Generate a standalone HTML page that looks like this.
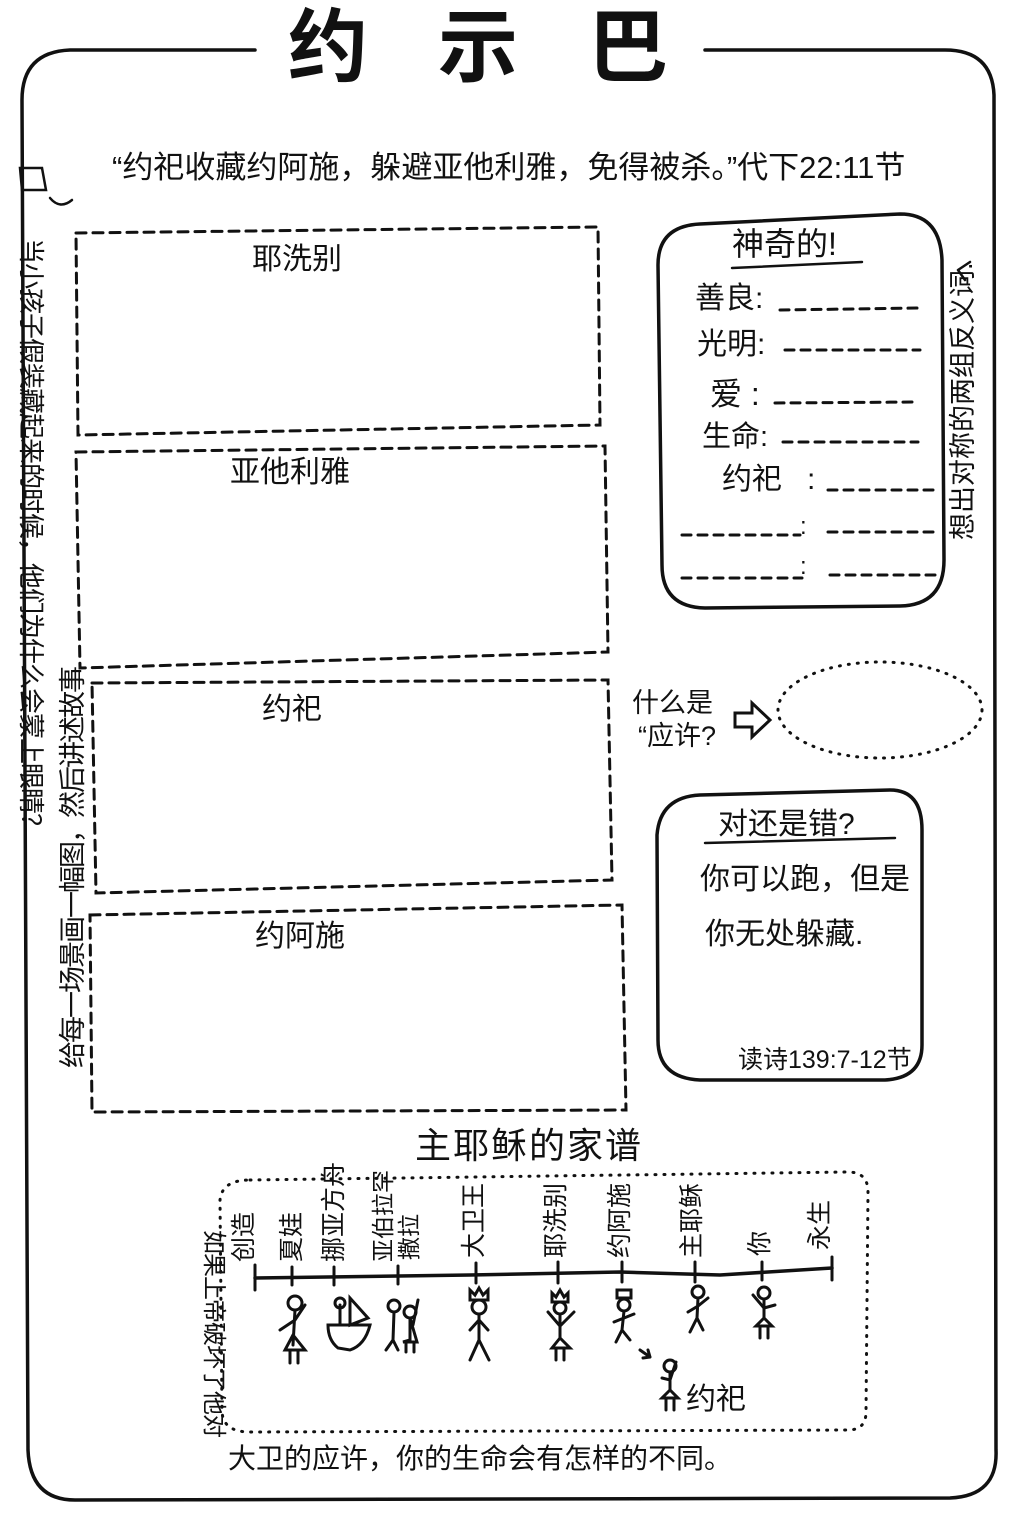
<!DOCTYPE html>
<html><head><meta charset="utf-8">
<style>
body{margin:0;width:1034px;height:1517px;background:#fff;position:relative;overflow:hidden;font-family:"Liberation Sans","Noto Sans CJK SC","WenQuanYi Zen Hei",sans-serif;color:#111}
.t{position:absolute;white-space:nowrap;line-height:1}
.r90{transform-origin:0 0;transform:rotate(90deg)}
.rm90{transform-origin:0 0;transform:rotate(-90deg)}
</style></head><body>
<svg width="1034" height="1517" style="position:absolute;left:0;top:0" fill="none" stroke="#111" stroke-linecap="round">
<path d="M255 50 L70 50 Q22 52 22 100 L28 1450 Q30 1500 75 1500 L950 1498 Q998 1496 996 1450 L994 95 Q992 50 945 50 L705 50" stroke-width="3.5"/>
<g stroke-width="3" stroke-dasharray="10 7">
<path d="M76 233 L598 227 L600 425 L78 435 Z"/>
<path d="M76 452 L605 446 L608 652 L80 668 Z"/>
<path d="M92 683 L608 680 L612 880 L96 893 Z"/>
<path d="M90 915 L622 905 L626 1110 L92 1112 Z"/>
</g>
<path d="M700 224 L900 214 Q940 214 942 260 L944 560 Q944 605 900 606 L705 608 Q662 607 662 565 L658 265 Q658 226 700 224 Z" stroke-width="3.5"/>
<path d="M732 268 L862 262" stroke-width="2.5"/>
<g stroke-width="3" stroke-dasharray="9 7">
<path d="M780 310 L920 308"/><path d="M785 350 L920 350"/><path d="M775 403 L915 402"/><path d="M783 442 L918 442"/><path d="M828 490 L935 490"/><path d="M682 535 L800 535"/><path d="M828 532 L935 532"/><path d="M682 578 L802 578"/><path d="M830 575 L938 575"/>
</g>
<path d="M958 270 L970 262 M958 270 L965 280" stroke-width="2.5"/>
<ellipse cx="880" cy="710" rx="102" ry="48" stroke-width="3" stroke-dasharray="1 8"/>
<path d="M735 713 L752 713 L752 703 L770 720 L752 737 L752 727 L735 727 Z" stroke-width="3"/>
<path d="M700 795 L890 790 Q922 790 922 830 L922 1045 Q922 1078 885 1080 L700 1080 Q658 1078 658 1040 L657 835 Q660 797 700 795 Z" stroke-width="3.5"/>
<path d="M705 843 L895 838" stroke-width="2.5"/>
<path d="M250 1180 L848 1172 Q868 1172 868 1192 L866 1412 Q866 1430 848 1430 L250 1432 Q222 1432 222 1410 L220 1200 Q222 1180 250 1180 Z" stroke-width="3" stroke-dasharray="1 8"/>
<path d="M255 1278 L470 1275 L620 1272 L720 1275 L832 1268" stroke-width="3.5"/>
<g stroke-width="3">
<path d="M255 1265 L255 1290"/><path d="M832 1257 L832 1280"/>
<path d="M292 1267 L292 1285"/><path d="M334 1267 L334 1285"/><path d="M398 1266 L398 1284"/><path d="M476 1263 L476 1283"/><path d="M558 1262 L558 1283"/><path d="M622 1262 L622 1282"/><path d="M695 1262 L695 1282"/><path d="M762 1262 L762 1280"/>
</g>
<g stroke-width="3">
<circle cx="295" cy="1303" r="7"/><path d="M295 1310 L293 1345 M280 1330 L295 1320 L305 1305 M293 1335 L285 1350 L305 1350 Z M290 1350 L290 1363 M298 1350 L298 1363"/>
<path d="M328 1325 L370 1325 Q365 1345 350 1350 L338 1348 Q328 1340 328 1325 Z M350 1298 L350 1325 L368 1318 Z M340 1305 L340 1325"/><circle cx="340" cy="1303" r="5"/>
<circle cx="394" cy="1306" r="6"/><circle cx="410" cy="1312" r="6"/><path d="M394 1312 L393 1340 L386 1350 M393 1340 L398 1350 M410 1318 L410 1340 L403 1342 L417 1342 Z M406 1342 L406 1352 M414 1342 L414 1352 M418 1300 L413 1325"/>
<path d="M470 1290 L470 1300 L488 1300 L488 1290 L483 1295 L479 1288 L475 1295 Z"/><circle cx="479" cy="1307" r="7"/><path d="M479 1314 L479 1340 L470 1360 M479 1340 L489 1360 M470 1330 L479 1320 L488 1330"/>
<path d="M552 1293 L552 1302 L568 1302 L568 1293 L564 1297 L560 1290 L556 1297 Z"/><circle cx="560" cy="1308" r="6"/><path d="M560 1314 L560 1338 M548 1312 L560 1326 L574 1312 M560 1338 L552 1348 L570 1348 Z M556 1348 L556 1360 M564 1348 L564 1360"/>
<path d="M617 1290 L617 1298 L631 1298 L631 1290 Z"/><circle cx="624" cy="1305" r="6"/><path d="M624 1311 L622 1330 L616 1342 M622 1330 L630 1340 M614 1322 L624 1318 L634 1314"/>
<circle cx="698" cy="1292" r="6"/><path d="M698 1298 L697 1318 L690 1332 M697 1318 L703 1330 M688 1312 L698 1306 L708 1298"/>
<circle cx="764" cy="1293" r="6"/><path d="M764 1299 L764 1318 M753 1295 L764 1308 L775 1305 M764 1318 L756 1326 L772 1326 Z M760 1326 L760 1338 M768 1326 L768 1338"/>
<path d="M640 1350 L650 1357 M650 1357 L648 1350 M650 1357 L643 1358"/>
<circle cx="670" cy="1366" r="6"/><path d="M670 1372 L670 1390 M662 1378 L670 1380 L676 1362 M670 1390 L662 1398 L678 1398 Z M666 1398 L666 1410 M674 1398 L674 1410"/>
</g>
<path d="M20 168 L42 168 L46 190 L22 190 Z M50 198 Q60 210 72 200" stroke-width="2.5"/>
</svg>

<div class="t" style="left:288px;top:8px;font-size:80px;font-weight:bold;letter-spacing:70px">约示巴</div>
<div class="t" style="left:112px;top:152px;font-size:31px">“约祀收藏约阿施，躲避亚他利雅，免得被杀。”代下22:11节</div>

<div class="t" style="left:252px;top:245px;font-size:30px">耶洗别</div>
<div class="t" style="left:230px;top:458px;font-size:30px">亚他利雅</div>
<div class="t" style="left:262px;top:695px;font-size:30px">约祀</div>
<div class="t" style="left:255px;top:922px;font-size:30px">约阿施</div>

<div class="t r90" style="left:44px;top:238px;font-size:26px;letter-spacing:-1px">当小孩子假装藏起来的时候，他们为什么会蒙上眼睛？</div>
<div class="t rm90" style="left:60px;top:1068px;font-size:27px;letter-spacing:-2px">给每一场景画一幅图，然后讲述故事</div>

<div class="t" style="left:732px;top:228px;font-size:32px">神奇的!</div>
<div class="t" style="left:695px;top:284px;font-size:30px">善良:</div>
<div class="t" style="left:697px;top:330px;font-size:30px">光明:</div>
<div class="t" style="left:710px;top:378px;font-size:32px">爱 :</div>
<div class="t" style="left:702px;top:423px;font-size:29px">生命:</div>
<div class="t" style="left:722px;top:465px;font-size:30px">约祀 &nbsp;&nbsp;:</div>
<div class="t" style="left:800px;top:515px;font-size:24px">:</div>
<div class="t" style="left:800px;top:555px;font-size:24px">:</div>
<div class="t rm90" style="left:950px;top:540px;font-size:27px">想出对称的两组反义词.</div>

<div class="t" style="left:632px;top:690px;font-size:27px">什么是</div>
<div class="t" style="left:638px;top:723px;font-size:27px">“应许?</div>

<div class="t" style="left:718px;top:810px;font-size:30px">对还是错?</div>
<div class="t" style="left:700px;top:865px;font-size:30px">你可以跑，但是</div>
<div class="t" style="left:705px;top:920px;font-size:30px">你无处躲藏.</div>
<div class="t" style="left:738px;top:1048px;font-size:25px">读诗139:7-12节</div>

<div class="t" style="left:415px;top:1128px;font-size:36px;letter-spacing:2px">主耶稣的家谱</div>

<div class="t rm90" style="left:232px;top:1262px;font-size:25px">创造</div>
<div class="t rm90" style="left:280px;top:1262px;font-size:25px">夏娃</div>
<div class="t rm90" style="left:322px;top:1262px;font-size:25px">挪亚方舟</div>
<div class="t rm90" style="left:372px;top:1262px;font-size:23px">亚伯拉罕</div>
<div class="t rm90" style="left:398px;top:1260px;font-size:23px">撒拉</div>
<div class="t rm90" style="left:462px;top:1258px;font-size:25px">大卫王</div>
<div class="t rm90" style="left:544px;top:1258px;font-size:25px">耶洗别</div>
<div class="t rm90" style="left:608px;top:1258px;font-size:25px">约阿施</div>
<div class="t rm90" style="left:680px;top:1258px;font-size:25px">主耶稣</div>
<div class="t rm90" style="left:748px;top:1256px;font-size:25px">你</div>
<div class="t rm90" style="left:808px;top:1250px;font-size:25px">永生</div>
<div class="t" style="left:686px;top:1385px;font-size:30px">约祀</div>

<div class="t r90" style="left:225px;top:1230px;font-size:24px;letter-spacing:-1px">如果上帝破坏了他对</div>
<div class="t" style="left:228px;top:1445px;font-size:28px">大卫的应许，你的生命会有怎样的不同。</div>
</body></html>
